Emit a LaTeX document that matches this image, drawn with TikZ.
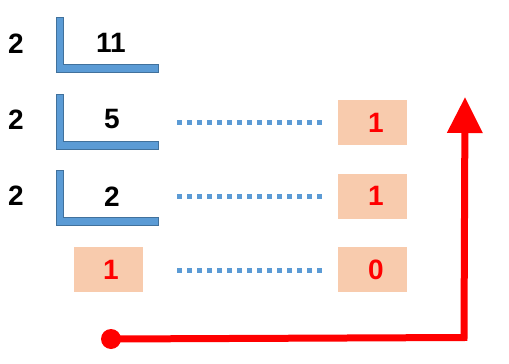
\documentclass[tikz,border=0pt]{standalone}
\usepackage{fontspec}
\setmainfont{Liberation Sans}
\usetikzlibrary{arrows.meta}
\definecolor{bfill}{HTML}{5B9BD5}
\definecolor{bline}{HTML}{41719C}
\definecolor{pinkbox}{HTML}{F8CBAD}
\definecolor{redc}{HTML}{FF0000}
\tikzset{
  num/.style={font=\fontsize{28}{28}\selectfont\bfseries, inner sep=0pt},
  rnum/.style={num, text=redc},
  pbox/.style={fill=pinkbox, minimum width=69pt, minimum height=45pt, inner sep=0pt},
  bracket/.style={fill=bfill, draw=bline, line width=1pt},
  dots/.style={draw=bfill, line width=5pt, dash pattern=on 5pt off 5pt},
  redline/.style={draw=redc, line width=7pt}
}
\begin{document}
\begin{tikzpicture}[x=1pt,y=-1pt]
\useasboundingbox (0,0) rectangle (509,364);
% brackets
\foreach \t/\b in {17/72, 94/149, 170/225}{
  \draw[bracket] (56.5,\t) -- (63,\t) -- (63,\b-8) -- (158,\b-8) -- (158,\b) -- (56.5,\b) -- cycle;
}
% divisors
\node[num] (d1) at (16,44) {2};
\node[num] (d2) at (16,120) {2};
\node[num] (d3) at (16,196) {2};
% quotients
\node[num] (q1) at (111,43) {11};
\node[num] (q2) at (112,119) {5};
\node[num] (q3) at (112,197) {2};
% boxes
\node[pbox] (r1) at (372.5,122.5) {};
\node[rnum] at (376,122.5) {1};
\node[pbox] (r2) at (372.5,196) {};
\node[rnum] at (376,196) {1};
\node[pbox] (r3) at (372.5,269.5) {};
\node[rnum] at (376,269.5) {0};
\node[pbox] (l3) at (108,269.5) {};
\node[rnum] at (111,269.5) {1};
% dotted connectors
\coordinate (a1) at (177,122);
\coordinate (a2) at (177,196);
\coordinate (a3) at (177,270);
\coordinate (b1) at (323,122);
\coordinate (b2) at (323,196);
\coordinate (b3) at (323,270);
\draw[dots] (a1) -- (b1);
\draw[dots] (a2) -- (b2);
\draw[dots] (a3) -- (b3);
% red arrow
\coordinate (s) at (111,339);
\coordinate (c) at (464,337.5);
\coordinate (e) at (465,97);
\fill[redc] (s) circle (10pt);
\draw[redline, -{Triangle[width=34pt,length=36pt]}] (s) -- (c) -- (e);
\end{tikzpicture}
\end{document}
